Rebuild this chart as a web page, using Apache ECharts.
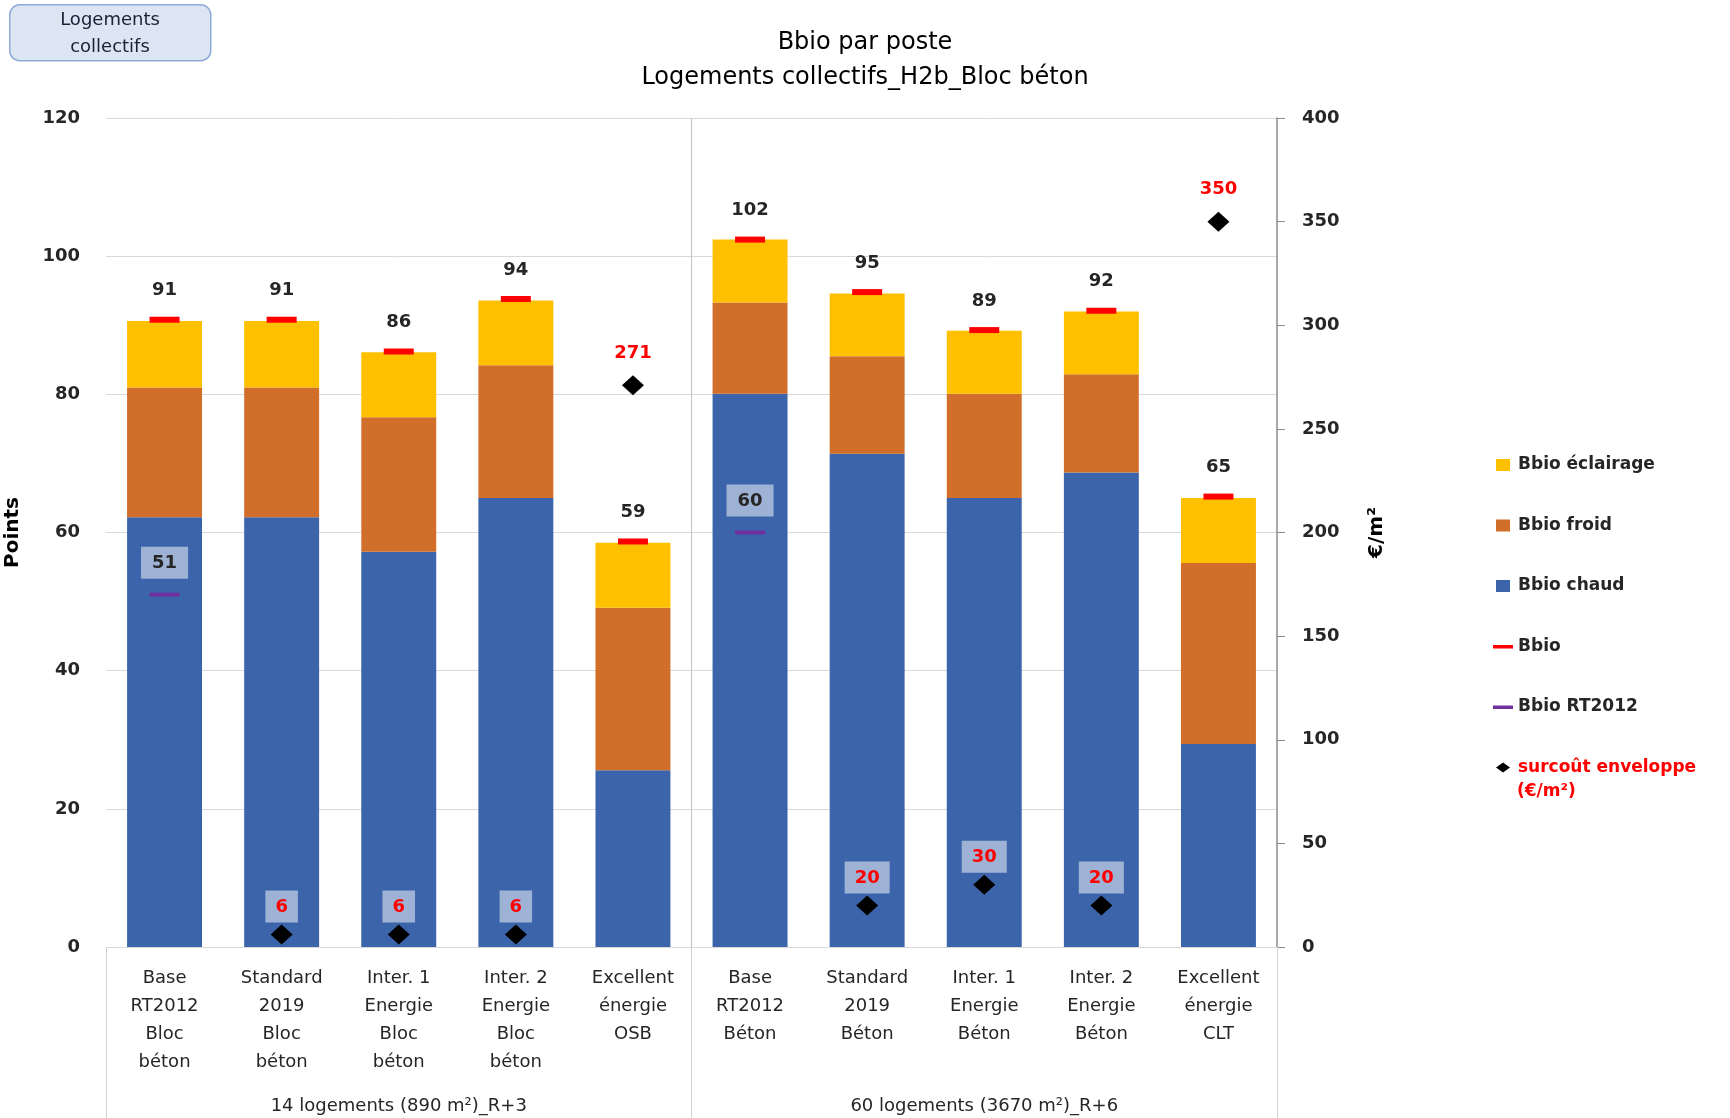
<!DOCTYPE html>
<html><head><meta charset="utf-8">
<script src="https://cdn.jsdelivr.net/npm/echarts@6/dist/echarts.min.js"></script>
<style>html,body{margin:0;padding:0;background:#fff}#c{width:1730px;height:1118px}</style>
</head><body><div id="c"></div>
<script>
const categories = ['Base\nRT2012\nBloc\nbéton', 'Standard\n2019\nBloc\nbéton', 'Inter. 1\nEnergie\nBloc\nbéton', 'Inter. 2\nEnergie\nBloc\nbéton', 'Excellent\nénergie\nOSB',
  'Base\nRT2012\nBéton', 'Standard\n2019\nBéton', 'Inter. 1\nEnergie\nBéton', 'Inter. 2\nEnergie\nBéton', 'Excellent\nénergie\nCLT'];
const groups = ['14 logements (890 m²)_R+3', '60 logements (3670 m²)_R+6'];
const chaud = [62.2, 62.2, 57.2, 65.0, 25.6, 80.1, 71.4, 65.0, 68.7, 29.4];
const froid = [18.8, 18.8, 19.5, 19.2, 23.5, 13.2, 14.1, 15.1, 14.2, 26.2];
const eclairage = [9.6, 9.6, 9.4, 9.4, 9.4, 9.1, 9.1, 9.1, 9.1, 9.4];
const bbio = [90.8, 90.8, 86.2, 93.8, 58.7, 102.4, 94.8, 89.3, 92.1, 65.2];
const bbioRT2012 = [51, null, null, null, null, 60, null, null, null, null];
const surcout = [null, 6, 6, 6, 271, null, 20, 30, 20, 350];
const seriesNames = ['Bbio éclairage', 'Bbio froid', 'Bbio chaud', 'Bbio', 'Bbio RT2012', 'surcoût enveloppe'];

const FONT = '"DejaVu Sans", Verdana, sans-serif';
const TXT = '#262626';
const boxBg = 'rgba(255,255,255,0.5)';
const chart = echarts.init(document.getElementById('c'));

const sq = 'path://M0,0L20,0M3,2h14v12h-14zM0,16L20,16';
const ln = 'path://M0,0L20,0M0,6.5h20v3.5h-20zM0,16L20,16';
const dm = 'path://M0,0L20,0M10,3L17,8L10,13L3,8zM0,16L20,16';

chart.setOption({
  animation: false,
  textStyle: {fontFamily: FONT},
  title: {
    text: 'Bbio par poste\nLogements collectifs_H2b_Bloc béton',
    left: 'center', top: 20,
    textStyle: {fontFamily: FONT, fontSize: 24, fontWeight: 'normal', color: '#000', lineHeight: 35}
  },
  graphic: [
    {id: 'box', type: 'rect', left: 9, top: 4, shape: {width: 201, height: 56, r: 10},
     style: {fill: '#dce6f2', stroke: '#8eaadb', lineWidth: 1.5}},
    {id: 'boxtxt', type: 'text', x: 110, y: 7, style: {text: 'Logements\ncollectifs', fill: '#1a2238', font: '18px ' + FONT, lineHeight: 27, align: 'center'}},
    {id: 'unit', type: 'text', left: 1517, top: 783, style: {text: '(€/m²)', fill: '#ff0000', font: 'bold 17px ' + FONT}}
  ],
  legend: {
    orient: 'vertical', left: 1488, top: 450, itemGap: 40.5, itemWidth: 20, itemHeight: 16,
    itemStyle: {borderWidth: 0, opacity: 1},
    textStyle: {fontFamily: FONT, fontSize: 17, fontWeight: 'bold', color: TXT, lineHeight: 20},
    data: [
      {name: seriesNames[0], icon: sq},
      {name: seriesNames[1], icon: sq},
      {name: seriesNames[2], icon: sq},
      {name: seriesNames[3], icon: ln},
      {name: seriesNames[4], icon: ln},
      {name: seriesNames[5], icon: dm, textStyle: {color: '#ff0000'}}
    ]
  },
  grid: {left: 106, right: 453, top: 118, bottom: 171, outerBoundsMode: 'none', containLabel: false},
  xAxis: [
    {type: 'category', data: categories,
     axisLine: {lineStyle: {color: '#d9d9d9'}}, axisTick: {show: false},
     axisLabel: {interval: 0, margin: 17, fontSize: 18, lineHeight: 28, color: TXT, fontFamily: FONT}},
    {type: 'category', data: groups, position: 'bottom',
     axisLine: {show: false},
     axisTick: {show: true, interval: 0, length: 171, lineStyle: {color: '#d0d0d0'}},
     axisLabel: {interval: 0, margin: 150, fontSize: 18, color: TXT, fontFamily: FONT},
     splitLine: {show: false}}
  ],
  yAxis: [
    {type: 'value', min: 0, max: 120, interval: 20, name: 'Points', nameLocation: 'middle', nameGap: 83,
     nameTextStyle: {fontSize: 20, fontWeight: 'bold', color: '#000', fontFamily: FONT},
     axisLine: {show: false}, axisTick: {show: false},
     axisLabel: {margin: 26, fontSize: 18, fontWeight: 'bold', color: TXT, fontFamily: FONT},
     splitLine: {lineStyle: {color: '#d9d9d9'}}},
    {type: 'value', min: 0, max: 400, interval: 50, position: 'right', name: '€/m²', nameLocation: 'middle', nameGap: 90, nameRotate: 90,
     nameTextStyle: {fontSize: 20, fontWeight: 'bold', color: '#000', fontFamily: FONT},
     axisLine: {show: true, lineStyle: {color: '#8c8c8c', width: 1.5}},
     axisTick: {show: true, length: 8, lineStyle: {color: '#8c8c8c'}},
     axisLabel: {margin: 25, fontSize: 18, fontWeight: 'bold', color: TXT, fontFamily: FONT},
     splitLine: {show: false}}
  ],
  series: [
    {name: seriesNames[2], type: 'bar', stack: 'b', data: chaud, barWidth: '64%', itemStyle: {color: '#3c64ab'}},
    {name: seriesNames[1], type: 'bar', stack: 'b', data: froid, itemStyle: {color: '#d06e2a'}},
    {name: seriesNames[0], type: 'bar', stack: 'b', data: eclairage, itemStyle: {color: '#ffc000'}},
    {name: seriesNames[3], type: 'scatter', data: bbio, symbol: 'rect', symbolSize: [30, 6], z: 5,
     itemStyle: {color: '#ff0000', opacity: 1},
     label: {show: true, position: 'top', distance: 17, formatter: p => Math.round(p.value),
             fontSize: 18, fontWeight: 'bold', color: TXT, fontFamily: FONT}},
    {name: seriesNames[4], type: 'scatter', data: bbioRT2012, symbol: 'rect', symbolSize: [30, 4], z: 5,
     itemStyle: {color: '#7030a0', opacity: 1},
     label: {show: true, position: 'top', distance: 14, formatter: p => Math.round(p.value),
             fontSize: 18, fontWeight: 'bold', color: TXT, fontFamily: FONT,
             backgroundColor: boxBg, padding: [8, 11, 6, 11]}},
    {name: seriesNames[5], type: 'scatter', yAxisIndex: 1, symbol: 'diamond', symbolSize: [22, 20], z: 6,
     itemStyle: {color: '#000', opacity: 1},
     data: surcout.map(v => v == null ? null : {
       value: v,
       label: v < 100
         ? {show: true, position: 'top', distance: 2, backgroundColor: boxBg, padding: [8, 10, 6, 10]}
         : {show: true, position: 'top', distance: 13}
     }),
     label: {show: true, formatter: p => p.value, fontSize: 18, fontWeight: 'bold', color: '#ff0000', fontFamily: FONT}}
  ]
});

// separator between the two building groups, placed from the category scale
const xa = chart.convertToPixel({xAxisIndex: 0}, 4);
const xb = chart.convertToPixel({xAxisIndex: 0}, 5);
const yTop = chart.convertToPixel({yAxisIndex: 0}, 120);
const yBot = chart.convertToPixel({yAxisIndex: 0}, 0);
const xm = (xa + xb) / 2;
chart.setOption({graphic: [{id: 'sep', type: 'line', z: 1,
  shape: {x1: xm, y1: yTop, x2: xm, y2: yBot}, style: {stroke: '#c8c8c8', lineWidth: 1.2}}]});
</script></body></html>
